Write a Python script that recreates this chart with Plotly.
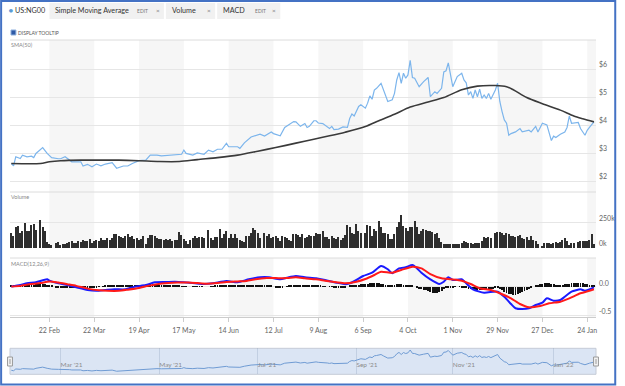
import plotly.graph_objects as go
import pandas as pd

# ---------------- data ----------------
price_dates = [
    "2021-01-28", "2021-01-29", "2021-02-01", "2021-02-03", "2021-02-04", "2021-02-08", "2021-02-10",
    "2021-02-11", "2021-02-12", "2021-02-17", "2021-02-19", "2021-02-23", "2021-02-26", "2021-03-01",
    "2021-03-03", "2021-03-05", "2021-03-08", "2021-03-12", "2021-03-15", "2021-03-17", "2021-03-19",
    "2021-03-23", "2021-03-25", "2021-03-29", "2021-04-01", "2021-04-05", "2021-04-08", "2021-04-12",
    "2021-04-14", "2021-04-19", "2021-04-22", "2021-04-26", "2021-04-29", "2021-05-03", "2021-05-07",
    "2021-05-11", "2021-05-14", "2021-05-17", "2021-05-18", "2021-05-21", "2021-05-25", "2021-05-28",
    "2021-06-01", "2021-06-03", "2021-06-07", "2021-06-09", "2021-06-11", "2021-06-14", "2021-06-18",
    "2021-06-21", "2021-06-23", "2021-06-28", "2021-07-02", "2021-07-06", "2021-07-09", "2021-07-12",
    "2021-07-15", "2021-07-19", "2021-07-23", "2021-07-26", "2021-07-28", "2021-07-30", "2021-08-02",
    "2021-08-03", "2021-08-05", "2021-08-06", "2021-08-09", "2021-08-11", "2021-08-13", "2021-08-16",
    "2021-08-17", "2021-08-18", "2021-08-20", "2021-08-24", "2021-08-26", "2021-08-27", "2021-08-30",
    "2021-08-31", "2021-09-02", "2021-09-03", "2021-09-07", "2021-09-08", "2021-09-09", "2021-09-10",
    "2021-09-13", "2021-09-14", "2021-09-16", "2021-09-17", "2021-09-20", "2021-09-21", "2021-09-23",
    "2021-09-24", "2021-09-27", "2021-09-28", "2021-09-29", "2021-09-30", "2021-10-01", "2021-10-04",
    "2021-10-05", "2021-10-06", "2021-10-07", "2021-10-11", "2021-10-13", "2021-10-15", "2021-10-18",
    "2021-10-20", "2021-10-21", "2021-10-25", "2021-10-26", "2021-10-27", "2021-10-28", "2021-10-29",
    "2021-11-01", "2021-11-03", "2021-11-05", "2021-11-08", "2021-11-09", "2021-11-10", "2021-11-11",
    "2021-11-12", "2021-11-15", "2021-11-16", "2021-11-17", "2021-11-18", "2021-11-19", "2021-11-22",
    "2021-11-23", "2021-11-24", "2021-11-26", "2021-11-29", "2021-11-30", "2021-12-01", "2021-12-02",
    "2021-12-03", "2021-12-06", "2021-12-07", "2021-12-09", "2021-12-13", "2021-12-14", "2021-12-17",
    "2021-12-20", "2021-12-22", "2021-12-23", "2021-12-27", "2021-12-29", "2021-12-31", "2022-01-03",
    "2022-01-04", "2022-01-06", "2022-01-10", "2022-01-11", "2022-01-12", "2022-01-13", "2022-01-18",
    "2022-01-19", "2022-01-21", "2022-01-24", "2022-01-25", "2022-01-27",
]
price_vals = [
    2.63, 2.55, 2.87, 2.81, 2.93, 2.87, 2.89,
    2.84, 2.99, 3.20, 2.99, 2.84, 2.80, 2.80,
    2.87, 2.75, 2.69, 2.69, 2.54, 2.60, 2.51,
    2.61, 2.55, 2.61, 2.66, 2.46, 2.54, 2.54,
    2.63, 2.73, 2.75, 2.93, 2.93, 2.90, 2.93,
    2.93, 2.96, 3.11, 2.99, 2.93, 3.01, 2.96,
    3.11, 3.05, 3.14, 3.14, 3.35, 3.23, 3.23,
    3.17, 3.37, 3.58, 3.68, 3.61, 3.76, 3.70,
    3.62, 3.92, 4.13, 4.12, 3.96, 4.06, 3.92,
    3.96, 4.16, 4.16, 4.08, 4.06, 3.96, 3.88,
    3.96, 3.84, 3.86, 3.94, 3.92, 4.24, 4.40,
    4.33, 4.67, 4.73, 4.61, 4.79, 5.05, 4.93,
    5.26, 5.32, 5.50, 5.26, 5.05, 4.85, 4.91,
    5.14, 5.62, 5.88, 5.50, 5.86, 5.68, 5.80,
    6.32, 5.71, 5.68, 5.38, 5.56, 5.71, 5.02,
    5.20, 5.14, 5.32, 5.91, 5.95, 6.23, 5.86,
    5.38, 5.74, 5.86, 5.62, 5.52, 5.08, 5.20,
    4.96, 5.26, 5.02, 5.29, 4.96, 5.08, 4.96,
    5.14, 4.93, 5.26, 5.50, 4.85, 4.49, 4.19,
    4.07, 3.64, 3.70, 3.76, 3.88, 3.76, 3.82,
    3.76, 3.96, 3.76, 4.07, 4.01, 3.45, 3.61,
    3.56, 3.68, 3.76, 3.92, 4.33, 4.07, 4.10,
    3.88, 3.64, 3.82, 3.92, 4.12,
]

sma_dates = [
    "2021-01-28", "2021-02-16", "2021-02-22", "2021-03-01", "2021-03-12", "2021-03-25", "2021-04-06",
    "2021-04-19", "2021-04-30", "2021-05-13", "2021-05-25", "2021-06-07", "2021-06-18", "2021-07-01",
    "2021-07-13", "2021-07-26", "2021-08-05", "2021-08-16", "2021-08-25", "2021-09-07", "2021-09-15",
    "2021-09-24", "2021-10-05", "2021-10-15", "2021-10-26", "2021-11-05", "2021-11-16", "2021-11-26",
    "2021-12-03", "2021-12-08", "2021-12-16", "2021-12-27", "2022-01-06", "2022-01-14", "2022-01-20",
    "2022-01-27",
]
sma_vals = [
    2.63, 2.63, 2.69, 2.73, 2.75, 2.75, 2.75,
    2.73, 2.70, 2.70, 2.77, 2.84, 2.93, 3.07,
    3.20, 3.36, 3.50, 3.62, 3.75, 3.95, 4.16,
    4.39, 4.65, 4.83, 4.99, 5.27, 5.40, 5.42,
    5.38, 5.27, 4.99, 4.77, 4.54, 4.33, 4.23,
    4.12,
]

macd_dates = [
    "2021-01-28", "2021-02-03", "2021-02-08", "2021-02-12", "2021-02-19", "2021-02-22", "2021-02-26",
    "2021-03-04", "2021-03-10", "2021-03-17", "2021-03-23", "2021-03-29", "2021-04-02", "2021-04-09",
    "2021-04-15", "2021-04-22", "2021-04-28", "2021-05-05", "2021-05-11", "2021-05-17", "2021-05-24",
    "2021-05-28", "2021-06-03", "2021-06-11", "2021-06-18", "2021-06-25", "2021-07-02", "2021-07-08",
    "2021-07-15", "2021-07-20", "2021-07-26", "2021-07-30", "2021-08-06", "2021-08-12", "2021-08-19",
    "2021-08-25", "2021-08-27", "2021-09-01", "2021-09-06", "2021-09-10", "2021-09-16", "2021-09-21",
    "2021-09-23", "2021-09-28", "2021-10-01", "2021-10-06", "2021-10-08", "2021-10-12", "2021-10-18",
    "2021-10-22", "2021-10-26", "2021-10-28", "2021-11-01", "2021-11-05", "2021-11-09", "2021-11-12",
    "2021-11-19", "2021-11-25", "2021-11-29", "2021-12-02", "2021-12-07", "2021-12-09", "2021-12-14",
    "2021-12-17", "2021-12-22", "2021-12-27", "2021-12-29", "2022-01-03", "2022-01-06", "2022-01-10",
    "2022-01-13", "2022-01-19", "2022-01-21", "2022-01-27",
]
macd_vals = [
    0.0, 0.026, 0.056, 0.074, 0.126, 0.102, 0.056,
    0.026, -0.014, -0.061, -0.074, -0.061, -0.049, -0.049,
    -0.004, 0.026, 0.074, 0.079, 0.084, 0.074, 0.056,
    0.044, 0.056, 0.096, 0.074, 0.126, 0.161, 0.161,
    0.126, 0.154, 0.184, 0.161, 0.144, 0.114, 0.067,
    0.039, 0.056, 0.114, 0.184, 0.242, 0.36, 0.302,
    0.232, 0.319, 0.337, 0.377, 0.319, 0.242, 0.126,
    0.044, 0.084, 0.161, 0.114, 0.126, 0.056, -0.049,
    -0.109, -0.091, -0.091, -0.179, -0.307, -0.382, -0.395,
    -0.382, -0.325, -0.284, -0.207, -0.249, -0.237, -0.179,
    -0.091, -0.049, -0.074, -0.014,
]

signal_dates = [
    "2021-01-28", "2021-02-03", "2021-02-09", "2021-02-16", "2021-02-22", "2021-02-26", "2021-03-04",
    "2021-03-10", "2021-03-17", "2021-03-24", "2021-03-30", "2021-04-06", "2021-04-12", "2021-04-19",
    "2021-04-23", "2021-04-29", "2021-05-06", "2021-05-12", "2021-05-19", "2021-05-25", "2021-05-31",
    "2021-06-07", "2021-06-11", "2021-06-18", "2021-06-24", "2021-06-30", "2021-07-07", "2021-07-13",
    "2021-07-20", "2021-07-26", "2021-07-30", "2021-08-06", "2021-08-12", "2021-08-19", "2021-08-25",
    "2021-09-01", "2021-09-07", "2021-09-13", "2021-09-16", "2021-09-23", "2021-09-29", "2021-10-06",
    "2021-10-12", "2021-10-18", "2021-10-25", "2021-10-29", "2021-11-05", "2021-11-11", "2021-11-17",
    "2021-11-24", "2021-11-30", "2021-12-07", "2021-12-13", "2021-12-17", "2021-12-24", "2021-12-30",
    "2022-01-06", "2022-01-12", "2022-01-19", "2022-01-25", "2022-01-27",
]
signal_vals = [
    0.0, 0.011, 0.04, 0.06, 0.089, 0.069, 0.04,
    0.011, -0.037, -0.066, -0.075, -0.075, -0.056, -0.027,
    0.011, 0.04, 0.06, 0.069, 0.069, 0.06, 0.05,
    0.06, 0.079, 0.089, 0.098, 0.127, 0.147, 0.147,
    0.147, 0.161, 0.144, 0.126, 0.102, 0.074, 0.056,
    0.084, 0.132, 0.202, 0.26, 0.242, 0.289, 0.347,
    0.319, 0.219, 0.144, 0.126, 0.102, 0.044, -0.032,
    -0.061, -0.119, -0.207, -0.307, -0.365, -0.342, -0.295,
    -0.267, -0.207, -0.119, -0.074, -0.049,
]

# volume per weekday, in thousands (None = no bar)
vol_jan21 = [143, 116]
vol_feb21 = [204, 210, 143, 168, 238, 162, 162, 223, 229, 177, None, 268, 198, 162, 55, 34, 30, None, 46, 58]
vol_mar21 = [30, 34, 34, 49, 58, 67, 49, 46, 64, 58, 76, 70, 67, 88, 52, 70, 76, 64, 98, 79, 82, 95, 82]
vol_apr21 = [95, 131, 131, 116, 107, 95, 119, 137, 107, 119, 88, 95, 82, 85, 113, 40, 101, 122, 125, 113, 95, 88]
vol_may21 = [88, 76, 85, 76, 88, 70, 79, 76, 152, 122, 85, 70, 40, 82, 95, 113, 101, 107, 105, 100, None]
vol_jun21 = [177, 101, 82, 107, 107, 180, 101, 131, 162, 95, 137, 95, 131, 95, 76, 64, 58, 113, 119, 146, 192, 177]
vol_jul21 = [146, 101, None, 143, 116, 131, 95, 107, 116, 95, 70, 113, 107, 101, 82, 64, 131, 131, 125, 107, 137, 101]
vol_aug21 = [107, 125, 116, 119, 149, 137, 131, 162, 107, 110, 85, 116, 101, 85, 107, 76, 95, 125, 223, 198, 146, 131]
vol_sep21 = [229, 162, 140, None, 149, 223, 216, 116, 186, 162, 259, 207, 143, 146, 137, 85, 85, 131, 207, 247, 320, 216]
vol_oct21 = [192, 162, 198, 207, 259, 207, 137, 162, 186, 177, 168, 162, 156, 137, 143, 95, 58, 40, 34, 40, 40]
vol_nov21 = [34, 34, 37, 40, 46, 64, 55, 46, 46, 40, 46, 52, 49, 64, 107, 101, 107, 101, None, 149, 156, 152]
vol_dec21 = [149, 125, 143, 131, 113, 119, 107, 113, 125, 101, 85, 107, 76, 119, 76, 70, 40, None, 24, 46, 46, 46, 40]
vol_jan22 = [46, 58, 52, 60, 76, 95, 70, 30, 50, 46, None, 55, 64, 70, 64, 70, 82, 131, 34]

# MACD histogram per weekday, one row per week
hist_rows = [
    [0.02, 0.02],
    [0.015, 0.015, 0.02, 0.02, 0.02], [0.02, 0.025, 0.03, 0.035, 0.04], [0.04, 0.045, 0.05, 0.045, 0.035],
    [0.02, 0.01, 0.0, -0.01, -0.015], [-0.015, -0.015, -0.02, -0.02, -0.02], [-0.025, -0.025, -0.03, -0.03, -0.03],
    [-0.03, -0.03, -0.03, -0.025, -0.02], [-0.015, -0.01, -0.005, 0.0, 0.005], [0.01, 0.015, 0.015, 0.02, 0.02],
    [0.02, 0.02, 0.02, 0.02, 0.025], [0.025, 0.025, 0.025, 0.03, 0.03], [0.03, 0.03, 0.035, 0.035, 0.04],
    [0.04, 0.04, 0.04, 0.035, 0.035], [0.03, 0.03, 0.025, 0.02, 0.02], [0.015, 0.015, 0.01, 0.01, 0.005],
    [0.005, 0.005, 0.0, 0.0, -0.005], [-0.005, -0.005, -0.005, -0.005, 0.0], [0.0, 0.0, 0.005, 0.005, 0.01],
    [0.01, 0.01, 0.01, 0.015, 0.015], [0.01, 0.01, 0.01, 0.01, 0.01], [0.01, 0.015, 0.02, 0.025, 0.03],
    [0.035, 0.035, 0.035, 0.03, 0.03], [0.025, 0.02, 0.02, 0.015, 0.01], [0.0, -0.01, -0.015, -0.015, -0.01],
    [0.0, 0.005, 0.01, 0.01, 0.015], [0.02, 0.02, 0.02, 0.02, 0.015], [0.015, 0.015, 0.015, 0.01, 0.01],
    [0.01, 0.01, 0.005, 0.005, 0.0], [-0.005, -0.005, -0.01, -0.01, -0.01], [-0.015, -0.015, -0.01, 0.0, 0.01],
    [0.02, 0.025, 0.03, 0.035, 0.04], [0.045, 0.05, 0.05, 0.055, 0.06], [0.06, 0.065, 0.06, 0.05, 0.04],
    [0.02, 0.015, 0.02, 0.03, 0.035], [0.04, 0.045, 0.04, 0.035, 0.03], [0.025, 0.03, 0.015, 0.0, -0.02],
    [-0.04, -0.05, -0.06, -0.07, -0.08], [-0.1, -0.11, -0.12, -0.11, -0.1], [-0.08, -0.05, -0.03, -0.02, -0.015],
    [-0.01, -0.005, 0.0, -0.005, -0.01], [-0.02, -0.03, -0.04, -0.05, -0.06], [-0.07, -0.07, -0.065, -0.06, -0.05],
    [-0.045, -0.04, -0.04, -0.035, -0.03], [-0.03, -0.05, -0.07, -0.09, -0.11], [-0.13, -0.14, -0.15, -0.15, -0.14],
    [-0.12, -0.1, -0.08, -0.06, -0.04], [-0.02, 0.0, 0.02, 0.03, 0.04], [0.05, 0.06, 0.06, 0.055, 0.05],
    [0.04, 0.03, 0.03, 0.03, 0.035], [0.04, 0.045, 0.05, 0.06, 0.065], [0.07, 0.07, 0.065, 0.06, 0.05],
    [0.04, 0.03, 0.025, 0.02],
]

x_tick_dates = ["2021-02-22", "2021-03-22", "2021-04-19", "2021-05-17", "2021-06-14", "2021-07-12", "2021-08-09",
                "2021-09-06", "2021-10-04", "2021-11-01", "2021-11-29", "2021-12-27", "2022-01-24"]
x_tick_labels = ["22 Feb", "22 Mar", "19 Apr", "17 May", "14 Jun", "12 Jul", "9 Aug",
                 "6 Sep", "4 Oct", "1 Nov", "29 Nov", "27 Dec", "24 Jan"]
nav_tick_dates = ["2021-03-01", "2021-04-30", "2021-07-01", "2021-09-01", "2021-11-01", "2022-01-03"]
nav_tick_labels = ["Mar '21", "May '21", "Jul '21", "Sep '21", "Nov '21", "Jan '22"]
price_ticks = [2, 3, 4, 5, 6]
price_tick_labels = ["$2", "$3", "$4", "$5", "$6"]
vol_ticks = [0, 250000]
vol_tick_labels = ["0k", "250k"]
macd_ticks = [-0.5, 0.0]
macd_tick_labels = ["-0.5", "0.0"]

# ---------------- build ----------------
trade_days = pd.bdate_range("2021-01-28", "2022-01-27")
volume = [None if v is None else v * 1000 for v in
          vol_jan21 + vol_feb21 + vol_mar21 + vol_apr21 + vol_may21 + vol_jun21 + vol_jul21 +
          vol_aug21 + vol_sep21 + vol_oct21 + vol_nov21 + vol_dec21 + vol_jan22]
macd_hist = [v for row in hist_rows for v in row]

X0, X1 = "2021-01-27 10:00", "2022-01-27 22:00"
DAY = 86400000
FONT = "Lato, 'Open Sans', sans-serif"

# pixel helpers for layout placement (plot area: x 10..604, y 40..375)
def PX(x):
    return (x - 10) / 594.0

def PY(y):
    return (375 - y) / 335.0

fig = go.Figure()
fig.add_trace(go.Scatter(x=price_dates, y=price_vals, mode="lines",
                         line=dict(color="#7cb5ec", width=1.2), xaxis="x", yaxis="y"))
fig.add_trace(go.Scatter(x=sma_dates, y=sma_vals, mode="lines",
                         line=dict(color="#3a3a3a", width=1.6, shape="spline", smoothing=0.8),
                         xaxis="x", yaxis="y"))
fig.add_trace(go.Bar(x=trade_days, y=volume, width=0.6 * DAY,
                     marker=dict(color="#2e2e2e", line=dict(width=0)), xaxis="x", yaxis="y2"))
fig.add_trace(go.Bar(x=trade_days, y=macd_hist, width=0.4 * DAY,
                     marker=dict(color="#111111", line=dict(width=0)), xaxis="x", yaxis="y3"))
fig.add_trace(go.Scatter(x=macd_dates, y=macd_vals, mode="lines",
                         line=dict(color="#1a1aff", width=2, shape="spline", smoothing=0.6),
                         xaxis="x", yaxis="y3"))
fig.add_trace(go.Scatter(x=signal_dates, y=signal_vals, mode="lines",
                         line=dict(color="#ff1a1a", width=2, shape="spline", smoothing=0.6),
                         xaxis="x", yaxis="y3"))
fig.add_trace(go.Scatter(x=price_dates, y=price_vals, mode="lines",
                         line=dict(color="#6f9bd3", width=1), xaxis="x2", yaxis="y4"))

axis_font = dict(family=FONT, size=7, color="#666666")
breaks = [dict(bounds=["sat", "mon"])]

fig.update_layout(
    width=625, height=386,
    margin=dict(l=10, r=21, t=40, b=11),
    paper_bgcolor="white", plot_bgcolor="white",
    showlegend=False, hovermode=False, bargap=0,
    font=dict(family=FONT),
    xaxis=dict(domain=[0, 1], range=[X0, X1], rangebreaks=breaks, anchor="y3",
               tickvals=x_tick_dates, ticktext=x_tick_labels, ticks="outside", ticklen=4,
               tickcolor="#cccccc", showline=True, linecolor="#cccccc", linewidth=1,
               showgrid=False, zeroline=False, tickfont=axis_font, ticklabelstandoff=3),
    yaxis=dict(domain=[PY(192), 1], range=[1.61, 7.05], side="right", anchor="x",
               tickvals=price_ticks, ticktext=price_tick_labels, showgrid=True,
               gridcolor="#e6e6e6", zeroline=False, tickfont=axis_font,
               ticklabelshift=-5, ticklabelstandoff=2),
    yaxis2=dict(domain=[PY(248), PY(192)], range=[0, 540000], side="right", anchor="x",
                tickvals=vol_ticks, ticktext=vol_tick_labels, showgrid=True,
                gridcolor="#e6e6e6", zeroline=False, tickfont=axis_font,
                ticklabelshift=-4, ticklabelstandoff=2),
    yaxis3=dict(domain=[PY(317), PY(258)], range=[-0.535, 0.5], side="right", anchor="x",
                tickvals=macd_ticks, ticktext=macd_tick_labels, showgrid=True,
                gridcolor="#e6e6e6", zeroline=False, tickfont=axis_font,
                ticklabelshift=-3, ticklabelstandoff=2),
    xaxis2=dict(domain=[0, 1], range=[X0, X1], rangebreaks=breaks, anchor="y4",
                tickvals=nav_tick_dates, ticktext=nav_tick_labels, ticks="",
                ticklabelposition="inside right", showgrid=True,
                gridcolor="rgba(130,150,180,0.28)", showline=False, zeroline=False,
                tickfont=dict(family=FONT, size=6.5, color="#8c8c8c")),
    yaxis4=dict(domain=[PY(374.3), PY(348.3)], range=[1.9, 6.63], visible=False, anchor="x2"),
)

shapes = []
# alternating bands
band_edges = x_tick_dates + [X1]
for i in range(0, len(x_tick_dates), 2):
    for yr in ["y domain", "y2 domain", "y3 domain"]:
        shapes.append(dict(type="rect", xref="x", yref=yr, x0=band_edges[i], x1=band_edges[i + 1],
                           y0=0, y1=1, fillcolor="#f6f6f6", line=dict(width=0), layer="below"))
# panel separators
for yy in [40, 192, 258]:
    shapes.append(dict(type="line", xref="paper", yref="paper", x0=0, x1=1, y0=PY(yy), y1=PY(yy),
                       line=dict(color="#dcdcdc", width=1)))
# navigator box
shapes.append(dict(type="rect", xref="paper", yref="paper", x0=0, x1=1, y0=PY(374.3), y1=PY(348.3),
                   fillcolor="#dbe5f4", line=dict(color="#c5cbd6", width=1), layer="below"))
for hx in [10, 604]:
    shapes.append(dict(type="rect", xref="paper", yref="paper", x0=PX(hx - 2.5), x1=PX(hx + 2.5),
                       y0=PY(366), y1=PY(357), fillcolor="#f2f2f2", line=dict(color="#9a9a9a", width=1)))
    shapes.append(dict(type="line", xref="paper", yref="paper", x0=PX(hx), x1=PX(hx),
                       y0=PY(364), y1=PY(359), line=dict(color="#9a9a9a", width=1)))
# header tabs
for (a, b) in [(50, 166), (168, 218), (220, 284)]:
    shapes.append(dict(type="rect", xref="paper", yref="paper", x0=PX(a), x1=PX(b),
                       y0=PY(19), y1=PY(3), fillcolor="#f1f1f1", line=dict(width=0)))
# checkbox
shapes.append(dict(type="rect", xref="paper", yref="paper", x0=PX(11), x1=PX(16),
                   y0=PY(35), y1=PY(30), fillcolor="#2f5aa6", line=dict(color="#8eb0de", width=1)))
# outer frame
shapes.append(dict(type="rect", xref="paper", yref="paper", x0=PX(1), x1=PX(623.5),
                   y0=PY(384.5), y1=PY(1), line=dict(color="#4472c4", width=2)))
fig.update_layout(shapes=shapes)

def txt(x, y, s, size, color, anchor="left"):
    return dict(xref="paper", yref="paper", x=PX(x), y=PY(y), text=s, showarrow=False,
                xanchor=anchor, yanchor="middle", xshift=-1, font=dict(family=FONT, size=size, color=color))

fig.update_layout(annotations=[
    txt(7, 10, "•", 10, "#5b9bd5"),
    txt(14, 10.5, "US:NG00", 7.2, "#333333"),
    txt(55, 10.5, "Simple Moving Average", 7.2, "#333333"),
    txt(138, 10.5, "EDIT", 5, "#777777"),
    txt(157, 10.5, "×", 6.5, "#777777"),
    txt(173, 10.5, "Volume", 7.2, "#333333"),
    txt(209, 10.5, "×", 6.5, "#777777"),
    txt(225, 10.5, "MACD", 7.2, "#333333"),
    txt(257, 10.5, "EDIT", 5, "#777777"),
    txt(275, 10.5, "×", 6.5, "#777777"),
    txt(17, 32.5, "DISPLAY TOOLTIP", 5, "#555555"),
    txt(10, 45, "SMA(50)", 5.5, "#888888"),
    txt(10, 197, "Volume", 5.5, "#888888"),
    txt(10, 263.5, "MACD(12,26,9)", 5.5, "#888888"),
])

fig.write_html("out.html", config={"displayModeBar": False},
               post_script="document.body.style.margin='0px';document.body.style.overflow='hidden';")
